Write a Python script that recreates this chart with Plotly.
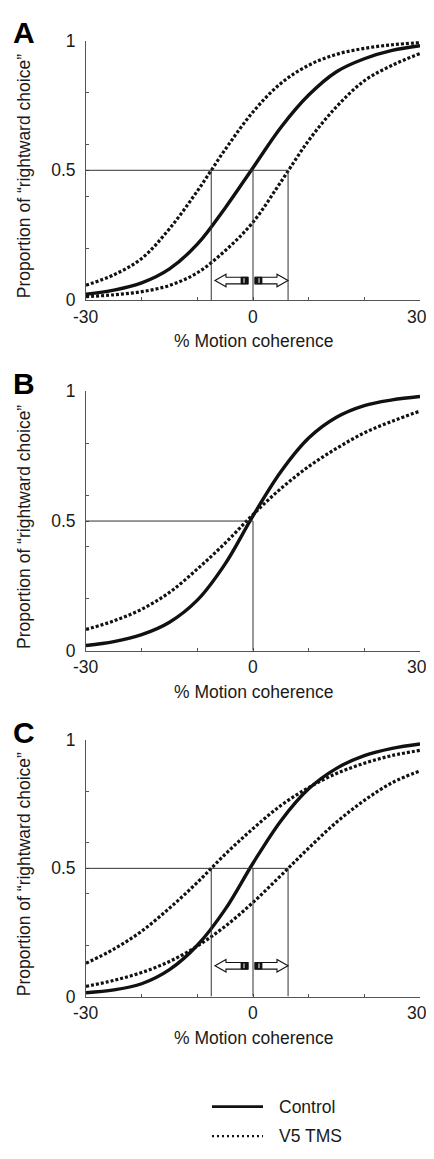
import plotly.graph_objects as go

# ---------------- data ----------------
coherence = [-30, -25, -20, -15, -10, -5, 0, 5, 10, 15, 20, 25, 30]

A_control   = [0.022, 0.038, 0.066, 0.12, 0.215, 0.355, 0.51, 0.665, 0.79, 0.88, 0.93, 0.962, 0.98]
A_tms_left  = [0.057, 0.097, 0.16, 0.275, 0.42, 0.58, 0.725, 0.835, 0.905, 0.947, 0.97, 0.984, 0.992]
A_tms_right = [0.013, 0.02, 0.032, 0.056, 0.105, 0.19, 0.3, 0.455, 0.615, 0.745, 0.845, 0.905, 0.95]

B_control = [0.02, 0.035, 0.062, 0.11, 0.195, 0.335, 0.52, 0.69, 0.82, 0.9, 0.945, 0.967, 0.98]
B_tms     = [0.082, 0.115, 0.16, 0.225, 0.315, 0.415, 0.525, 0.625, 0.71, 0.78, 0.84, 0.885, 0.924]

C_control   = [0.015, 0.026, 0.05, 0.105, 0.2, 0.34, 0.52, 0.685, 0.81, 0.89, 0.94, 0.968, 0.985]
C_tms_left  = [0.13, 0.185, 0.255, 0.345, 0.445, 0.555, 0.655, 0.745, 0.815, 0.87, 0.91, 0.94, 0.96]
C_tms_right = [0.04, 0.063, 0.094, 0.137, 0.197, 0.274, 0.367, 0.472, 0.579, 0.68, 0.765, 0.834, 0.88]

# 50% thresholds (PSE) marked by reference lines
A_pse = [-7.5, 0, 6.3]
B_pse = [0]
C_pse = [-7.5, 0, 6.3]

x_tickvals = [-30, -20, -10, 0, 10, 20, 30]
x_ticktext = ["-30", "", "", "0", "", "", "30"]
y_tickvals = [0, 0.2, 0.4, 0.5, 0.6, 0.8, 1]
y_ticktext = ["0", "", "", "0.5", "", "", "1"]

panel_letters = ["A", "B", "C"]
x_title = "% Motion coherence"
y_title = "Proportion of \u201crightward choice\u201d"
legend_labels = ["Control", "V5 TMS"]

# ---------------- layout geometry ----------------
# The page body keeps its default 8px margin, so the figure is 16px smaller than
# the 434x1159 window and all target positions (window pixels) are shifted by 8.
OFF = 8
W, H = 434 - 2 * OFF, 1159 - 2 * OFF
X_LEFT, X_RIGHT = 86, 420
PANELS = [(31, 295), (388, 652), (743, 1004)]  # (top px, bottom px) in window pixels
ARROW_Y = [0.075, None, 0.12]

FONT = "Liberation Sans, Arial, Helvetica, sans-serif"
FS = 17.5
AXIS_COLOR = "#555555"
TEXT_COLOR = "#1a1a1a"


def px_x(p):
    return (p - OFF) / W


def px_y(p):
    return 1 - (p - OFF) / H


fig = go.Figure()

curves = [
    [(A_control, "solid"), (A_tms_left, "dot"), (A_tms_right, "dot")],
    [(B_control, "solid"), (B_tms, "dot")],
    [(C_control, "solid"), (C_tms_left, "dot"), (C_tms_right, "dot")],
]
pses = [A_pse, B_pse, C_pse]

shapes = []
annotations = []

for i, (top, bot) in enumerate(PANELS):
    n = "" if i == 0 else str(i + 1)
    xa, ya = "x" + n, "y" + n
    for vals, style in sorted(curves[i], key=lambda c: c[1] == "solid"):
        fig.add_trace(go.Scatter(
            x=coherence, y=vals, mode="lines", xaxis=xa, yaxis=ya,
            showlegend=False, hoverinfo="skip",
            line=dict(color="#111111", width=3.4 if style == "solid" else 3.2,
                      shape="spline", smoothing=1.0,
                      dash=None if style == "solid" else "3px,2px"),
        ))

    # reference lines at the 50% points
    p = pses[i]
    shapes.append(dict(type="line", xref=xa, yref=ya, x0=-30, x1=max(p), y0=0.5, y1=0.5,
                       line=dict(color="#333333", width=1)))
    for v in p:
        shapes.append(dict(type="line", xref=xa, yref=ya, x0=v, x1=v, y0=0, y1=0.5,
                           line=dict(color="#333333", width=1)))

    # shift arrows
    if ARROW_Y[i] is not None:
        yv = ARROW_Y[i]
        h, Hh, S = 11, 6.3, 3.3
        for side in (-1, 1):
            if side == -1:
                t, e = -38, -5
            else:
                t, e = 35, 2
            d = 1 if side == -1 else -1
            b = t + d * h
            path = (f"M{t},0 L{b},{Hh} L{b},{S} L{e},{S} L{e},{-S} "
                    f"L{b},{-S} L{b},{-Hh} Z")
            shapes.append(dict(type="path", xref=xa, yref=ya, xsizemode="pixel",
                               ysizemode="pixel", xanchor=0, yanchor=yv, path=path,
                               fillcolor="white", line=dict(color="#111111", width=1.1)))
            blk0 = e - d * 7
            shapes.append(dict(type="rect", xref=xa, yref=ya, xsizemode="pixel",
                               ysizemode="pixel", xanchor=0, yanchor=yv,
                               x0=min(blk0, e), x1=max(blk0, e), y0=-S, y1=S,
                               fillcolor="#111111", line=dict(color="#111111", width=0.8)))
            sx = e - d * 4
            shapes.append(dict(type="line", xref=xa, yref=ya, xsizemode="pixel",
                               ysizemode="pixel", xanchor=0, yanchor=yv,
                               x0=sx, x1=sx, y0=-S + 1, y1=S - 1,
                               line=dict(color="white", width=1)))

    axis_common = dict(showgrid=False, zeroline=False, showline=True, linecolor=AXIS_COLOR,
                       linewidth=1, ticks="inside", ticklen=3, tickcolor=AXIS_COLOR,
                       tickwidth=1, tickfont=dict(family=FONT, size=FS, color=TEXT_COLOR),
                       fixedrange=True)
    fig.update_layout(**{
        ("xaxis" + n): dict(domain=[px_x(X_LEFT), px_x(X_RIGHT)], range=[-30, 30],
                            anchor=ya, tickmode="array", tickvals=x_tickvals,
                            showticklabels=False, **axis_common),
        ("yaxis" + n): dict(domain=[px_y(bot), px_y(top)], range=[0, 1], anchor=xa,
                            tickmode="array", tickvals=y_tickvals, ticktext=y_ticktext,
                            ticklabelstandoff=6, **axis_common),
    })

    # x tick labels (written as annotations so the right-most one is not dropped)
    for tv, tt in zip(x_tickvals, x_ticktext):
        if not tt:
            continue
        annotations.append(dict(text=tt, xref=xa, yref="paper", x=tv, y=px_y(bot + 17),
                                xshift=-3 if tv == 30 else 0,
                                showarrow=False, xanchor="center", yanchor="middle",
                                font=dict(family=FONT, size=FS, color=TEXT_COLOR)))

    annotations.append(dict(text=x_title, xref="paper", yref="paper",
                            x=px_x((X_LEFT + X_RIGHT) / 2 + 1), y=px_y(bot + 42),
                            showarrow=False, xanchor="center", yanchor="middle",
                            font=dict(family=FONT, size=FS, color=TEXT_COLOR)))
    annotations.append(dict(text=y_title, xref="paper", yref="paper", textangle=-90,
                            x=px_x(24), y=px_y((top + bot) / 2 + 6),
                            showarrow=False, xanchor="center", yanchor="middle",
                            font=dict(family=FONT, size=FS, color=TEXT_COLOR)))
    annotations.append(dict(text="<b>" + panel_letters[i] + "</b>", xref="paper",
                            yref="paper", x=px_x(24), y=px_y(top - 8),
                            showarrow=False, xanchor="center", yanchor="middle",
                            font=dict(family=FONT, size=30, color="#000000")))

# legend drawn by hand
leg_y = [1116, 1146]
shapes.append(dict(type="line", xref="paper", yref="paper", x0=px_x(212), x1=px_x(263),
                   y0=px_y(leg_y[0]), y1=px_y(leg_y[0]), line=dict(color="#111111", width=2.6)))
shapes.append(dict(type="line", xref="paper", yref="paper", x0=px_x(212), x1=px_x(263),
                   y0=px_y(leg_y[1]), y1=px_y(leg_y[1]),
                   line=dict(color="#111111", width=2.2, dash="2px,3px")))
for lab, ly in zip(legend_labels, leg_y):
    annotations.append(dict(text=lab, xref="paper", yref="paper", x=px_x(277), y=px_y(ly),
                            showarrow=False, xanchor="left", yanchor="middle",
                            font=dict(family=FONT, size=FS, color=TEXT_COLOR)))

fig.update_layout(width=W, height=H, autosize=False,
                  margin=dict(l=0, r=0, t=0, b=0, pad=0),
                  paper_bgcolor="white", plot_bgcolor="white",
                  shapes=shapes, annotations=annotations, showlegend=False)

fig.write_html("out.html", config={"displayModeBar": False, "staticPlot": True})
